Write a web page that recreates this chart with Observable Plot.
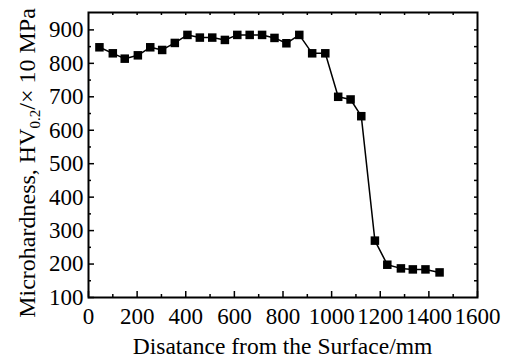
<!DOCTYPE html>
<html><head><meta charset="utf-8">
<script src="https://cdn.jsdelivr.net/npm/d3@7"></script>
<script src="https://cdn.jsdelivr.net/npm/@observablehq/plot@0.6"></script>
<style>html,body{margin:0;padding:0;background:#fff}svg{display:block}
#chart svg, #chart svg text, #chart svg tspan{font-family:'Liberation Serif','Times New Roman',serif !important;}
#chart svg g[aria-label*="tick label"], #chart svg g[aria-label*="tick label"] text{font-size:23px !important;font-variant:normal !important;}</style>
</head><body><div id="chart"></div>
<script>
const distance = [45,100,149,203,254,303,355,407,458,509,561,612,663,714,765,814,867,920,974,1027,1078,1122,1178,1229,1285,1334,1386,1444];
const hardness = [848,830,814,824,848,840,861,885,877,877,870,885,885,885,876,860,885,830,830,700,692,642,270,198,187,184,184,175];
const xMajorTicks = [0,200,400,600,800,1000,1200,1400,1600];
const xMinorTicks = [100,300,500,700,900,1100,1300,1500];
const xTopTicks = [100,200,300,400,500,600,700,800,900,1000,1100,1200,1300,1400,1500];
const yMajorTicks = [100,200,300,400,500,600,700,800,900];
const yMinorTicks = [150,250,350,450,550,650,750,850];
const yRightTicks = [150,200,250,300,350,400,450,500,550,600,650,700,750,800,850,900];
const xLabel = "Disatance from the Surface/mm";
const yLabelMain = "Microhardness, HV";
const yLabelSub = "0.2";
const yLabelTail = "/\u00d7 10 MPa";

const data = distance.map((x, i) => ({x, y: hardness[i]}));
const W = 506, H = 361, mL = 88, mR = 29, mT = 12, mB = 64;
const iW = W - mL - mR, iH = H - mT - mB;
const font = "Liberation Serif";

const chart = Plot.plot({
  width: W, height: H,
  marginLeft: mL, marginRight: mR, marginTop: mT, marginBottom: mB,
  style: {fontFamily: font, fontSize: "23px", color: "#000", background: "#fff"},
  x: {domain: [0, 1600]},
  y: {domain: [100, 952]},
  marks: [
    Plot.axisX(xMajorTicks, {tickSize: 0, tickPadding: 10, label: null, fontSize: 23, fontFamily: font, tickFormat: d => String(d)}),
    Plot.axisY(yMajorTicks, {tickSize: 0, tickPadding: 5, label: null, fontSize: 23, fontFamily: font, tickFormat: d => String(d)}),
    Plot.ruleX(xMajorTicks, {x: d => d, insetTop: iH - 6, stroke: "#000", strokeWidth: 1.5}),
    Plot.ruleX(xMinorTicks, {x: d => d, insetTop: iH - 3, stroke: "#000", strokeWidth: 1.5}),
    Plot.ruleX(xTopTicks, {x: d => d, insetBottom: iH - 3, stroke: "#000", strokeWidth: 1.5}),
    Plot.ruleY(yMajorTicks, {y: d => d, insetRight: iW - 6, stroke: "#000", strokeWidth: 1.5}),
    Plot.ruleY(yMinorTicks, {y: d => d, insetRight: iW - 3, stroke: "#000", strokeWidth: 1.5}),
    Plot.ruleY(yRightTicks, {y: d => d, insetLeft: iW - 3, stroke: "#000", strokeWidth: 1.5}),
    Plot.frame({stroke: "#000", strokeWidth: 2}),
    Plot.line(data, {x: "x", y: "y", stroke: "#000", strokeWidth: 1.5}),
    Plot.dot(data, {x: "x", y: "y", symbol: "square", r: 4.8, fill: "#000", stroke: "none"})
  ]
});
document.getElementById("chart").appendChild(chart);

const svg = d3.select(chart);
svg.append("text")
  .attr("x", mL + iW / 2).attr("y", 354)
  .attr("text-anchor", "middle")
  .attr("font-size", 23.5).attr("fill", "#000")
  .text(xLabel);
const yl = svg.append("text")
  .attr("transform", `translate(35,${163}) rotate(-90)`)
  .attr("text-anchor", "middle")
  .attr("font-size", 24).attr("fill", "#000");
yl.append("tspan").text(yLabelMain);
yl.append("tspan").attr("font-size", 15).attr("dy", 5).text(yLabelSub);
yl.append("tspan").attr("dy", -5).text(yLabelTail);
</script>
</body></html>
